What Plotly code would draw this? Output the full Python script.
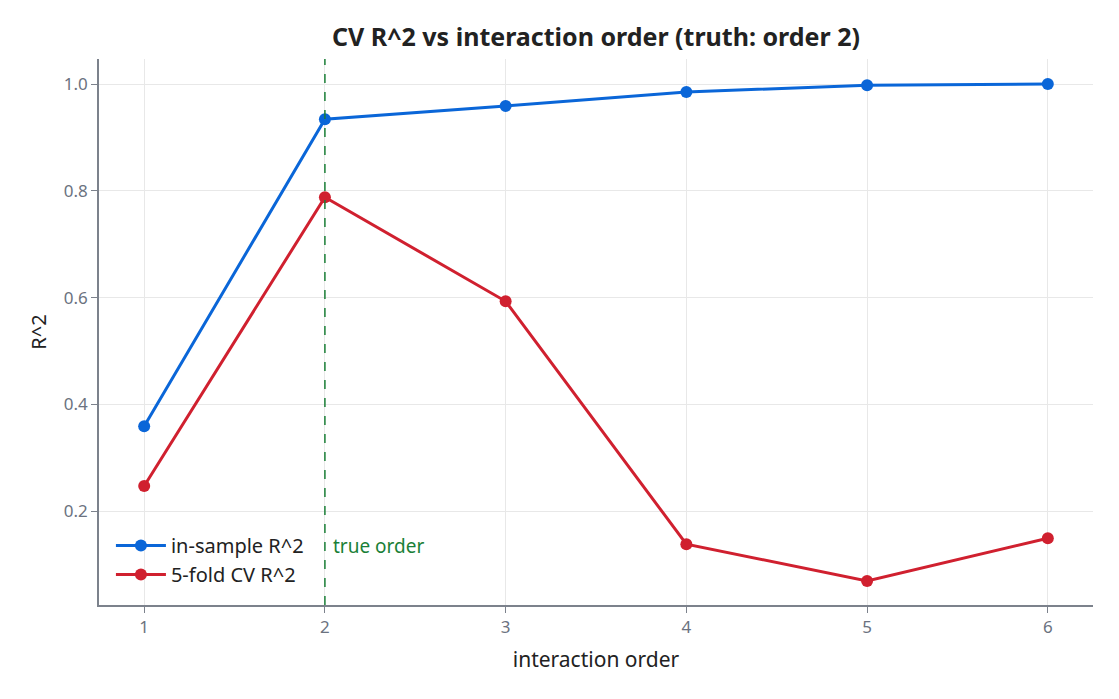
import plotly.graph_objects as go

orders = [1, 2, 3, 4, 5, 6]
in_sample_r2 = [0.359, 0.934, 0.959, 0.985, 0.998, 1.0]
cv_r2 = [0.247, 0.788, 0.593, 0.138, 0.069, 0.149]
true_order = 2

FONT = "Noto Sans"
BLUE = "#0a66d8"
RED = "#d0202f"
GREEN = "#1a7f37"

fig = go.Figure()
fig.add_trace(go.Scatter(x=orders, y=in_sample_r2, mode="lines+markers", name="in-sample R^2",
                         line=dict(color=BLUE, width=3), marker=dict(size=12, color=BLUE)))
fig.add_trace(go.Scatter(x=orders, y=cv_r2, mode="lines+markers", name="5-fold CV R^2",
                         line=dict(color=RED, width=3), marker=dict(size=12, color=RED)))

fig.add_vline(x=true_order, line=dict(color=GREEN, width=1.5, dash="dash"))
fig.add_annotation(x=true_order, y=0.134, text="true order", showarrow=False,
                   xanchor="left", xshift=6, font=dict(color=GREEN, size=19, family=FONT))

fig.update_layout(
    width=1119, height=699,
    paper_bgcolor="white", plot_bgcolor="white",
    margin=dict(l=99, r=26, t=59, b=94),
    font=dict(family=FONT, color="#222222"),
    title=dict(text="<b>CV R^2 vs interaction order (truth: order 2)</b>", x=0.5, xref="paper",
               xanchor="center", y=0.946, yanchor="middle",
               font=dict(size=25, color="#222222", family=FONT)),
    showlegend=True,
    legend=dict(x=0.012, y=0.02, xanchor="left", yanchor="bottom", bgcolor="rgba(255,255,255,0)",
                font=dict(size=20, color="#222222"), itemwidth=50, tracegroupgap=2),
    xaxis=dict(range=[0.75, 6.25], tickvals=orders, showgrid=True, gridcolor="#e8e8e8",
               showline=True, linecolor="#7c828c", linewidth=1.5, ticks="outside", ticklen=6,
               tickcolor="#7c828c", zeroline=False,
               tickfont=dict(size=17, color="#6b7280"),
               title=dict(text="interaction order", font=dict(size=21, color="#222222"), standoff=15)),
    yaxis=dict(range=[0.024, 1.047], tickvals=[0.2, 0.4, 0.6, 0.8, 1.0], ticktext=["0.2", "0.4", "0.6", "0.8", "1.0"],
               showgrid=True, gridcolor="#e8e8e8",
               showline=True, linecolor="#7c828c", linewidth=1.5, ticks="outside", ticklen=6,
               tickcolor="#7c828c", zeroline=False,
               tickfont=dict(size=17, color="#6b7280"),
               title=dict(text="R^2", font=dict(size=20, color="#222222"), standoff=12)),
)

fig.write_html("out.html")
